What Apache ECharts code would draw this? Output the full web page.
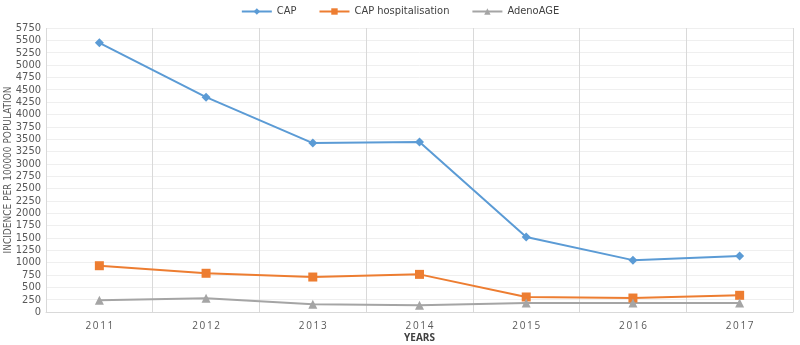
<!DOCTYPE html>
<html><head><meta charset="utf-8">
<script src="https://cdn.jsdelivr.net/npm/echarts@6/dist/echarts.min.js"></script>
<style>html,body{margin:0;padding:0;background:#fff}#c{width:800px;height:345px}</style>
</head><body><div id="c"></div>
<script>
var years = ['2011','2012','2013','2014','2015','2016','2017'];
var cap = [5450, 4350, 3420, 3440, 1520, 1050, 1135];
var capHosp = [937, 784, 708, 762, 304, 283, 338];
var adeno = [237, 277, 156, 136, 182, 182, 182];
var yTicks = {min: 0, max: 5750, interval: 250};

var narrow = '"DejaVu Sans Condensed", "Open Sans"';
var chart = echarts.init(document.getElementById('c'));
chart.setOption({
  animation: false,
  textStyle: {fontFamily: 'Open Sans'},
  legend: {
    top: 1, left: 'center', itemWidth: 30, itemHeight: 8, itemGap: 22,
    textStyle: {fontSize: 11, color: '#404040', fontFamily: narrow},
    data: ['CAP', 'CAP hospitalisation', 'AdenoAGE']
  },
  grid: {left: 46, right: 7, top: 28, bottom: 33, containLabel: false, outerBoundsMode: 'none'},
  xAxis: {
    type: 'category', data: years, boundaryGap: true,
    name: 'YEARS', nameLocation: 'middle', nameGap: 21, nameMoveOverlap: false,
    nameTextStyle: {fontWeight: 'bold', fontSize: 10, color: '#404040'},
    axisLine: {lineStyle: {color: '#d9d9d9'}},
    axisTick: {show: false},
    axisLabel: {fontSize: 10, color: '#595959', margin: 9,
      formatter: function(v){ return v.split('').join('\u2009'); }},
    splitLine: {show: true, lineStyle: {color: '#d9d9d9'}}
  },
  yAxis: {
    type: 'value', min: yTicks.min, max: yTicks.max, interval: yTicks.interval,
    name: 'INCIDENCE PER 100000 POPULATION', nameLocation: 'middle', nameGap: 33, nameMoveOverlap: false,
    nameTextStyle: {fontSize: 10, color: '#595959', fontFamily: narrow},
    axisLine: {show: false}, axisTick: {show: false},
    axisLabel: {fontSize: 11, color: '#595959', margin: 5, fontFamily: narrow,
      formatter: function(v){ return String(v); }},
    splitLine: {lineStyle: {color: '#efefef'}}
  },
  series: [
    {name: 'CAP', type: 'line', data: cap, symbol: 'diamond', symbolSize: 9,
     itemStyle: {color: '#5b9bd5'}, lineStyle: {width: 2}},
    {name: 'CAP hospitalisation', type: 'line', data: capHosp, symbol: 'rect', symbolSize: 9,
     itemStyle: {color: '#ed7d31'}, lineStyle: {width: 2}},
    {name: 'AdenoAGE', type: 'line', data: adeno, symbol: 'triangle', symbolSize: 9,
     itemStyle: {color: '#a5a5a5'}, lineStyle: {width: 2}}
  ]
});
</script></body></html>
